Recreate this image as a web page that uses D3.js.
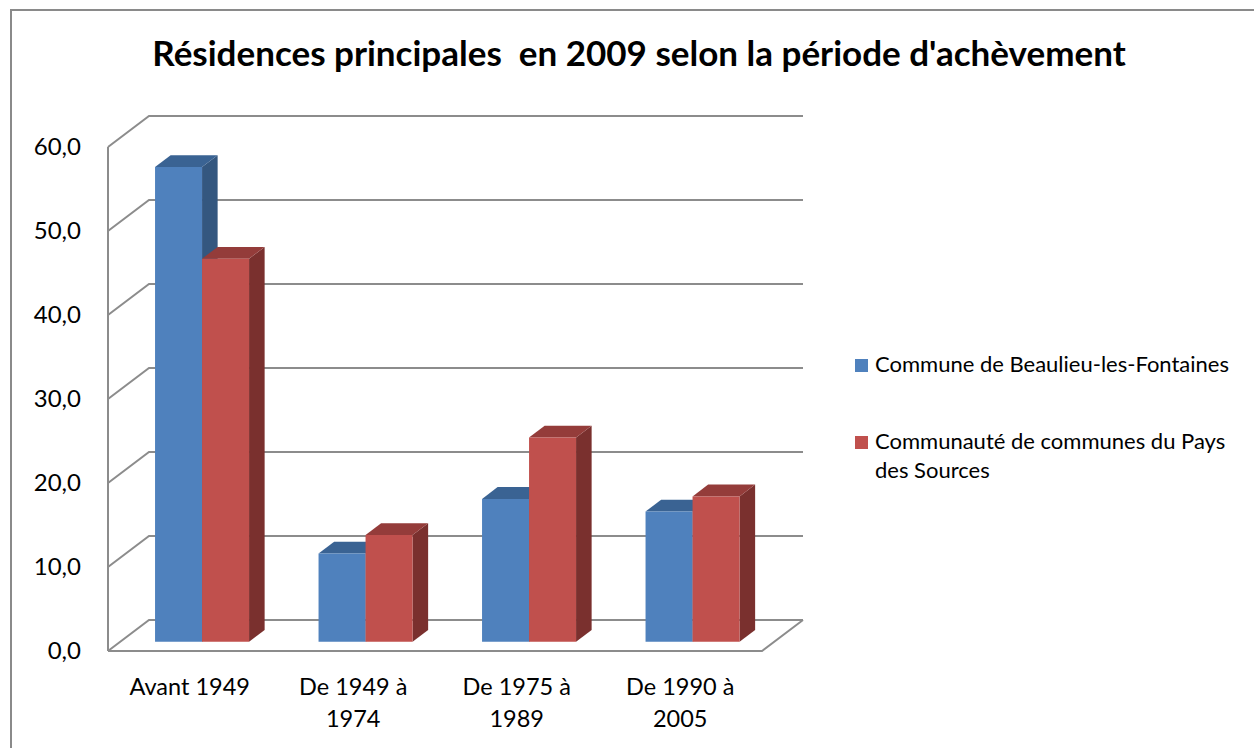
<!DOCTYPE html>
<html>
<head>
<meta charset="utf-8">
<script src="https://cdn.jsdelivr.net/npm/d3@7"></script>
<style>
  body { margin: 0; background: #fff; }
  text { font-family: Lato, "Open Sans", sans-serif; fill: #000; }
</style>
</head>
<body>
<svg id="chart"></svg>
<script>
// Chart size.
const width = 1254;
const height = 748;

// Data.
const categories = [["Avant 1949"], ["De 1949 à", "1974"], ["De 1975 à", "1989"], ["De 1990 à", "2005"]];
const seriesNames = [["Commune de Beaulieu-les-Fontaines"], ["Communauté de communes du Pays", "des Sources"]];
const commune = [56.5, 10.5, 17.0, 15.5];
const communaute = [45.6, 12.7, 24.3, 17.3];
const yTicks = [0, 10, 20, 30, 40, 50, 60];

// Colors: front, top, side per series.
const colors = [
  { front: "#4F81BD", top: "#3A6393", side: "#34577F" },
  { front: "#C0504D", top: "#943C3A", side: "#7A302E" }
];

// 3d geometry of the plot box (front plane).
const box = { left: 108, right: 762, top: 147, bottom: 651 };
const depth = { dx: 41, dy: -31 };
const barDepth = [0.30, 0.68];

const svg = d3.select("#chart").attr("width", width).attr("height", height);

function translate(x, y) {
  return "translate(" + String(x) + "," + String(y) + ")";
}

// Oblique projection: shift a front-plane point back by fraction f.
function project(x, y, f) {
  return [x + depth.dx * f, y + depth.dy * f];
}

const xScale = d3.scaleBand()
  .domain(d3.range(categories.length))
  .range([box.left, box.right])
  .paddingInner(0.425)
  .paddingOuter(0.2125);

const xInner = d3.scaleBand()
  .domain(d3.range(seriesNames.length))
  .range([0, xScale.bandwidth()]);

const yScale = d3.scaleLinear()
  .domain([0, 60])
  .range([box.bottom, box.top]);

// Outer frame.
svg.append("rect")
  .attr("x", 11).attr("y", 10)
  .attr("width", 1400).attr("height", 900)
  .attr("fill", "none")
  .attr("stroke", "#8a8a8a")
  .attr("stroke-width", 2);

// Title.
svg.append("text")
  .attr("x", 639)
  .attr("y", 66)
  .attr("text-anchor", "middle")
  .style("font-size", "35px")
  .style("font-weight", "bold")
  .style("white-space", "pre")
  .text("Résidences principales  en 2009 selon la période d'achèvement");

drawWalls();
drawBars();
drawAxisLabels();
drawLegend();

function drawWalls() {
  let g = svg.append("g").attr("id", "walls")
    .attr("fill", "none")
    .attr("stroke", "#8c8c8c")
    .attr("stroke-width", 2);

  // gridlines: left wall diagonal then back wall horizontal
  yTicks.forEach(t => {
    let y = yScale(t);
    let back = project(box.left, y, 1);
    let backRight = project(box.right, y, 1);
    g.append("path")
      .attr("d", d3.line()([[box.left, y], back, backRight]));
  });

  // vertical axis
  g.append("path")
    .attr("d", d3.line()([[box.left, yScale(60)], [box.left, yScale(0)]]));

  // floor front and right edges
  g.append("path")
    .attr("d", d3.line()([[box.left, yScale(0)], [box.right, yScale(0)], project(box.right, yScale(0), 1)]));
}

function drawBars() {
  let g = svg.append("g").attr("id", "bars");
  let series = [commune, communaute];

  categories.forEach((c, i) => {
    series.forEach((values, s) => {
      let v = values[i];
      let x0 = xScale(i) + xInner(s);
      let x1 = x0 + xInner.bandwidth();
      let yb = yScale(0);
      let yt = yScale(v);
      let f0 = barDepth[0];
      let f1 = barDepth[1];

      let front = [project(x0, yb, f0), project(x1, yb, f0), project(x1, yt, f0), project(x0, yt, f0)];
      let top = [project(x0, yt, f0), project(x1, yt, f0), project(x1, yt, f1), project(x0, yt, f1)];
      let side = [project(x1, yb, f0), project(x1, yb, f1), project(x1, yt, f1), project(x1, yt, f0)];

      g.append("path").attr("d", d3.line()(side) + "Z").attr("fill", colors[s].side);
      g.append("path").attr("d", d3.line()(top) + "Z").attr("fill", colors[s].top);
      g.append("path").attr("d", d3.line()(front) + "Z").attr("fill", colors[s].front);
    });
  });
}

function drawAxisLabels() {
  let fmt = d => d3.format(".1f")(d).replace(".", ",");

  svg.append("g").attr("id", "y-labels")
    .selectAll("text")
    .data(yTicks)
    .enter()
    .append("text")
    .attr("x", 81)
    .attr("y", d => yScale(d))
    .attr("dy", "0.35em")
    .attr("text-anchor", "end")
    .style("font-size", "24px")
    .text(fmt);

  let xl = svg.append("g").attr("id", "x-labels");
  categories.forEach((lines, i) => {
    let t = xl.append("text")
      .attr("text-anchor", "middle")
      .style("font-size", "23.5px");
    lines.forEach((line, k) => {
      t.append("tspan")
        .attr("x", xScale(i) + xScale.bandwidth() / 2)
        .attr("y", 695 + k * 32)
        .text(line);
    });
  });
}

function drawLegend() {
  let legend = svg.append("g").attr("id", "legend").attr("transform", translate(855, 0));
  let rows = [359, 436];

  seriesNames.forEach((lines, s) => {
    legend.append("rect")
      .attr("x", 0).attr("y", rows[s])
      .attr("width", 13).attr("height", 13)
      .attr("fill", colors[s].front);
    let t = legend.append("text").style("font-size", "22px");
    lines.forEach((line, k) => {
      t.append("tspan")
        .attr("x", 20)
        .attr("y", rows[s] + 13 + k * 29)
        .text(line);
    });
  });
}
</script>
</body>
</html>
